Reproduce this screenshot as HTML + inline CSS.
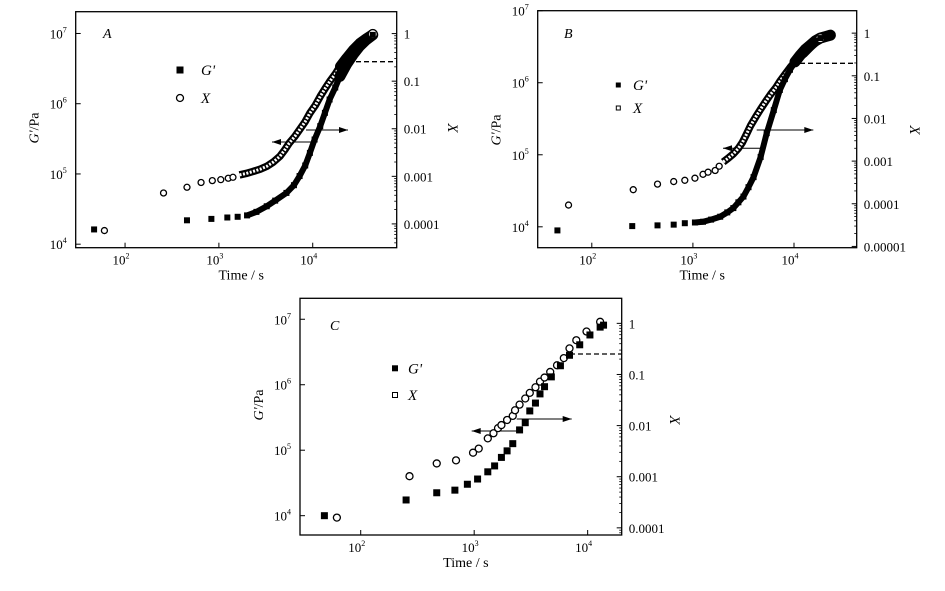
<!DOCTYPE html>
<html><head><meta charset="utf-8">
<style>
html,body{margin:0;padding:0;background:#fff;}
svg{display:block;font-family:"Liberation Serif",serif;}
</style></head>
<body>
<svg id="chart" width="945" height="591" viewBox="0 0 945 591" xmlns="http://www.w3.org/2000/svg"></svg>
<script>
// ---------- DATA (log10 values) ----------
// Panel A
const aGTime = [1.67,2.66,2.92,3.09,3.20,3.30,3.40,3.51,3.60,3.72,3.80,3.86,3.92,3.97,4.02,4.08,4.13,4.18,4.24,4.29,4.36,4.43,4.50,4.57,4.64];
const aGVal  = [4.21,4.34,4.36,4.38,4.39,4.41,4.46,4.54,4.62,4.73,4.84,4.97,5.12,5.30,5.49,5.68,5.87,6.06,6.23,6.39,6.56,6.70,6.82,6.91,6.98];
const aXTime = [1.78,2.41,2.66,2.81,2.93,3.02,3.10,3.15,3.22,3.29,3.36,3.44,3.51,3.58,3.65,3.70,3.75,3.81,3.86,3.92,3.97,4.03,4.08,4.13,4.18,4.24,4.29,4.36,4.43,4.50,4.57,4.64];
const aXVal  = [-4.14,-3.35,-3.23,-3.13,-3.09,-3.07,-3.04,-3.02,-2.97,-2.94,-2.90,-2.85,-2.79,-2.70,-2.58,-2.45,-2.30,-2.16,-2.02,-1.85,-1.67,-1.50,-1.32,-1.16,-1.01,-0.85,-0.69,-0.51,-0.34,-0.20,-0.10,-0.01];
// Panel B
const bGTime = [1.66,2.40,2.65,2.81,2.92,3.02,3.10,3.18,3.27,3.34,3.40,3.45,3.50,3.55,3.60,3.67,3.73,3.80,3.86,3.91,3.96,4.01,4.06,4.11,4.16,4.21,4.26,4.31,4.36];
const bGVal  = [3.95,4.01,4.02,4.03,4.05,4.06,4.07,4.10,4.14,4.20,4.26,4.34,4.42,4.55,4.69,4.97,5.30,5.62,5.90,6.05,6.18,6.29,6.38,6.46,6.52,6.58,6.62,6.64,6.66];
const bXTime = [1.77,2.41,2.65,2.81,2.92,3.02,3.10,3.15,3.22,3.26,3.30,3.35,3.40,3.45,3.49,3.53,3.57,3.62,3.67,3.72,3.77,3.82,3.86,3.91,3.96,4.02,4.09,4.14,4.19,4.26];
const bXVal  = [-4.03,-3.67,-3.54,-3.48,-3.45,-3.40,-3.31,-3.26,-3.22,-3.12,-3.02,-2.93,-2.83,-2.70,-2.56,-2.37,-2.17,-1.97,-1.78,-1.60,-1.43,-1.28,-1.13,-0.97,-0.81,-0.64,-0.47,-0.35,-0.23,-0.12];
// Panel C
const cGTime = [1.68,2.40,2.67,2.83,2.94,3.03,3.12,3.18,3.24,3.29,3.34,3.40,3.45,3.49,3.54,3.58,3.62,3.68,3.76,3.84,3.93,4.02,4.11,4.14];
const cGVal  = [4.00,4.24,4.35,4.39,4.48,4.56,4.67,4.76,4.89,4.99,5.10,5.31,5.42,5.60,5.72,5.86,5.97,6.12,6.29,6.45,6.61,6.76,6.88,6.91];
const cXTime = [1.79,2.43,2.67,2.84,2.99,3.04,3.12,3.17,3.21,3.24,3.29,3.34,3.36,3.40,3.45,3.49,3.54,3.58,3.62,3.67,3.73,3.79,3.84,3.90,3.99,4.11];
const cXVal  = [-3.80,-2.99,-2.74,-2.68,-2.53,-2.45,-2.25,-2.15,-2.05,-1.99,-1.89,-1.81,-1.70,-1.59,-1.47,-1.36,-1.25,-1.14,-1.06,-0.95,-0.82,-0.68,-0.49,-0.33,-0.16,0.03];
// tick labels
const xTickExp = [2,3,4];
const leftTickExp = [4,5,6,7];
const rightTickA = ["1","0.1","0.01","0.001","0.0001"];
const rightTickB = ["1","0.1","0.01","0.001","0.0001","0.00001"];
const rightTickC = ["1","0.1","0.01","0.001","0.0001"];

const NS="http://www.w3.org/2000/svg";
const svg=document.getElementById('chart');
function el(tag,attrs,parent,txt){const e=document.createElementNS(NS,tag);for(const k in attrs)e.setAttribute(k,attrs[k]);if(txt!==undefined)e.textContent=txt;(parent||svg).appendChild(e);return e;}

function panel(cfg){
  const g=el('g',{});
  
  
  const {L,R,T,B}=cfg.box;
  const sx=v=>L+(v-cfg.xr[0])/(cfg.xr[1]-cfg.xr[0])*(R-L);
  const sy=v=>B-(v-cfg.yr[0])/(cfg.yr[1]-cfg.yr[0])*(B-T);
  const sy2=v=>B-(v-cfg.y2r[0])/(cfg.y2r[1]-cfg.y2r[0])*(B-T);
  const frame=el('rect',{x:L,y:T,width:R-L,height:B-T,fill:'none',stroke:'#000','stroke-width':1.3},g);
  
  
  xTickExp.forEach(e=>{const x=sx(e);
    el('line',{x1:x,y1:B,x2:x,y2:B-5,stroke:'#000','stroke-width':1},g);
    const t=el('text',{x:x-4,y:B+17,'font-size':13,'text-anchor':'middle'},g);
    
    
    t.textContent='10';el('tspan',{dy:-6,'font-size':8},t,String(e));
  });
  leftTickExp.forEach(e=>{const y=sy(e);
    el('line',{x1:L,y1:y,x2:L+5,y2:y,stroke:'#000','stroke-width':1},g);
    const t=el('text',{x:L-9,y:y+5,'font-size':13,'text-anchor':'end'},g);
    
    
    t.textContent='10';el('tspan',{dy:-6,'font-size':8},t,String(e));
  });
  cfg.rightLabels.forEach((lab,i)=>{const y=sy2(-i);
    el('line',{x1:R,y1:y,x2:R-5,y2:y,stroke:'#000','stroke-width':1},g);
    for(let m=2;m<10;m++){const ym=sy2(-i-1+Math.log10(m)); if(ym>T&&ym<B) el('line',{x1:R,y1:ym,x2:R-2.5,y2:ym,stroke:'#000','stroke-width':0.8},g);}
    const t=el('text',{x:R+7,y:y+5,'font-size':13},g,lab);
    
    
  });
  const xt=el('text',{x:(L+R)/2+5,y:B+32,'font-size':14,'text-anchor':'middle'},g,'Time / s');
  
  
  const yt=el('text',{x:0,y:0,'font-size':14,'text-anchor':'middle',transform:`translate(${L-37},${cfg.ylabY}) rotate(-90)`},g);
  
  
  el('tspan',{'font-style':'italic'},yt,"G'");el('tspan',{},yt,'/Pa');
  const y2t=el('text',{x:0,y:0,'font-size':15,'font-style':'italic','text-anchor':'middle',transform:`translate(${cfg.y2labX},${cfg.y2labY}) rotate(90)`},g,'X');
  
  
  const pl=el('text',{x:cfg.lab[0],y:cfg.lab[1],'font-size':14,'font-style':'italic'},g,cfg.id);
  
  
  const dl=el('line',{x1:cfg.dash[0],y1:cfg.dash[1],x2:R,y2:cfg.dash[1],stroke:'#000','stroke-width':1.3,'stroke-dasharray':'5,3'},g);
  
  
  cfg.arrows.forEach(a=>{
    const ag=el('g',{},g);
    
    
    el('line',{x1:a[0],y1:a[2],x2:a[1],y2:a[2],stroke:'#000','stroke-width':1},ag);
    const d=a[1]>a[0]?-1:1;
    el('polygon',{points:`${a[1]},${a[2]} ${a[1]+d*9},${a[2]-3} ${a[1]+d*9},${a[2]+3}`,fill:'#000'},ag);
  });
  const clip='clip'+cfg.id;
  const cp=el('clipPath',{id:clip},g);el('rect',{x:L,y:T,width:R-L,height:B-T},cp);
  const sg=el('g',{'clip-path':`url(#${clip})`},g);
  const r=cfg.msz/2;
  if(cfg.band){
    const xpts=cfg.xt.map((t,i)=>sx(t)+','+sy2(cfg.xv[i]));
    const gpts=cfg.gt.map((t,i)=>sx(t)+','+sy(cfg.gv[i]));
    const xs=xpts.slice(cfg.xDense).join(' ');
    const xo=xpts.slice(cfg.xDense,cfg.xSolid+1).join(' ');
    const xsol=xpts.slice(cfg.xSolid).join(' ');
    const gs=gpts.slice(cfg.gDense).join(' ');
    const gTop=gpts.slice(cfg.gThick).join(' ');
    const bx=el('polyline',{points:xs,fill:'none',stroke:'#000','stroke-width':cfg.msz+1.5,'stroke-linejoin':'round'},sg);
    
    
    el('polyline',{points:xo,fill:'none',stroke:'#fff','stroke-width':cfg.msz-3,'stroke-dasharray':'2,1.5'},sg);
    el('polyline',{points:xsol,fill:'none',stroke:'#000','stroke-width':cfg.msz+4,'stroke-linejoin':'round','stroke-linecap':'round'},sg);
    const bg=el('polyline',{points:gs,fill:'none',stroke:'#000','stroke-width':cfg.msz,'stroke-linejoin':'round'},sg);
    
    
    el('polyline',{points:gTop,fill:'none',stroke:'#000','stroke-width':cfg.msz+5,'stroke-linejoin':'round','stroke-linecap':'round'},sg);
  }
  cfg.xt.forEach((t,i)=>{
    if(cfg.band && i>=cfg.xDense && i<cfg.xt.length-1) return;
    const rr=(cfg.band&&i===cfg.xt.length-1)?r+1.5:r;
    const c=el('circle',{cx:sx(t),cy:sy2(cfg.xv[i]),r:rr,fill:'#fff',stroke:'#000','stroke-width':1.3},sg);
    
    });
  cfg.gt.forEach((t,i)=>{
    const s=el('rect',{x:sx(t)-r,y:sy(cfg.gv[i])-r,width:2*r,height:2*r,fill:'#000'},sg);
    
    });
  const lg=el('g',{},g);
  
  
  const [lx,ly1,ly2,ls,lt]=cfg.legend;
  el('rect',{x:lx-ls/2,y:ly1-ls/2,width:ls,height:ls,fill:'#000'},lg);
  el('text',{x:lt,y:ly1+5,'font-size':15,'font-style':'italic'},lg,"G'");
  if(cfg.legendCircle) el('circle',{cx:lx,cy:ly2,r:ls/2,fill:'#fff',stroke:'#000','stroke-width':1.3},lg);
  else el('rect',{x:lx-ls/2+0.5,y:ly2-ls/2+0.5,width:ls-1,height:ls-1,fill:'#fff',stroke:'#000','stroke-width':1},lg);
  el('text',{x:lt,y:ly2+5,'font-size':15,'font-style':'italic'},lg,'X');
}

panel({id:'A',box:{L:75.7,R:396.7,T:11.7,B:247.7},xr:[1.474,4.895],yr:[3.95,7.31],y2r:[-4.5,0.46],
  rightLabels:rightTickA,ylabY:128,y2labX:448,y2labY:128,lab:[103,38],dash:[348,61.7],
  arrows:[[306,348,130],[313,272,142]],gt:aGTime,gv:aGVal,xt:aXTime,xv:aXVal,gDense:5,gThick:19,xDense:8,xSolid:26,band:true,msz:6,
  legend:[180,70,98,7,201],legendCircle:true});
panel({id:'B',box:{L:537.7,R:856.7,T:10.7,B:247.7},xr:[1.465,4.62],yr:[3.71,7.0],y2r:[-5.03,0.526],
  rightLabels:rightTickB,ylabY:130,y2labX:910,y2labY:130,lab:[564,38],dash:[800,63.3],
  arrows:[[756.7,813.3,130],[763,723,148.3]],gt:bGTime,gv:bGVal,xt:bXTime,xv:bXVal,gDense:5,gThick:21,xDense:10,xSolid:26,band:true,msz:6,
  legend:[618.3,85,108,5,633],legendCircle:false});
panel({id:'C',box:{L:300,R:621.7,T:298.3,B:535},xr:[1.465,4.30],yr:[3.705,7.32],y2r:[-4.14,0.49],
  rightLabels:rightTickC,ylabY:405,y2labX:670,y2labY:420,lab:[330,330],dash:[570,354],
  arrows:[[516.7,571.7,419],[518.3,471.7,431]],gt:cGTime,gv:cGVal,xt:cXTime,xv:cXVal,gDense:99,gThick:99,xDense:99,xSolid:99,band:false,msz:7,
  legend:[395,368.3,395,6,408],legendCircle:false});
</script>
</body></html>
